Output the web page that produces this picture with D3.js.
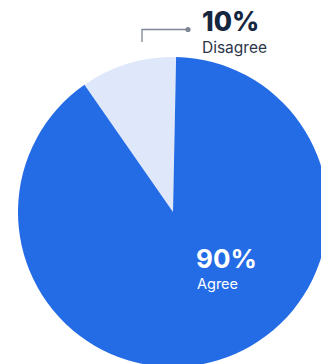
<!DOCTYPE html>
<html>
<head>
<meta charset="utf-8">
<script src="https://cdn.jsdelivr.net/npm/d3@7"></script>
<style>
  html, body { margin: 0; padding: 0; background: #fff; overflow: hidden; }
  svg { display: block; font-family: Inter, "Noto Sans", sans-serif; }
</style>
</head>
<body>
<svg id="chart" width="321" height="364"></svg>
<script>
// Survey response shares
const categories = ["Disagree", "Agree"];
const values = [10, 90];
const valueLabels = ["10%", "90%"];
const colors = ["#DFE8FA", "#246BE6"];

const svg = d3.select("#chart");
const cx = 173, cy = 212, r = 155;

const offset = 0.02;
const pie = d3.pie()
  .sort(null)
  .value(d => d.value)
  .startAngle(-2 * Math.PI * 0.1 + offset)
  .endAngle(2 * Math.PI - 2 * Math.PI * 0.1 + offset);

const data = categories.map((c, i) => ({ category: c, value: values[i], label: valueLabels[i], color: colors[i] }));
const arcs = pie(data);
const arc = d3.arc().innerRadius(0).outerRadius(r);

const g = svg.append("g").attr("transform", `translate(${cx},${cy})`);
g.selectAll("path")
  .data(arcs)
  .join("path")
  .attr("d", arc)
  .attr("fill", d => d.data.color);

// Callout for the small slice
const leader = svg.append("g");
leader.append("path")
  .attr("d", "M142,42 V29.5 H188")
  .attr("fill", "none")
  .attr("stroke", "#7D8796")
  .attr("stroke-width", 1.3);
leader.append("circle")
  .attr("cx", 188).attr("cy", 29.5).attr("r", 2.6)
  .attr("fill", "#7D8796");

svg.append("text")
  .attr("x", 202).attr("y", 30.5)
  .attr("font-size", 26.5).attr("font-weight", 800)
  .attr("fill", "#15263F")
  .text(arcs[0].data.label);
svg.append("text")
  .attr("x", 202).attr("y", 53)
  .attr("font-size", 15.5)
  .attr("fill", "#2A3548")
  .text(arcs[0].data.category);

// Label inside the large slice
svg.append("text")
  .attr("x", 196).attr("y", 268)
  .attr("font-size", 26).attr("font-weight", 700)
  .attr("fill", "#FFFFFF")
  .text(arcs[1].data.label);
svg.append("text")
  .attr("x", 197).attr("y", 289)
  .attr("font-size", 14.5)
  .attr("fill", "#FFFFFF")
  .text(arcs[1].data.category);
</script>
</body>
</html>
